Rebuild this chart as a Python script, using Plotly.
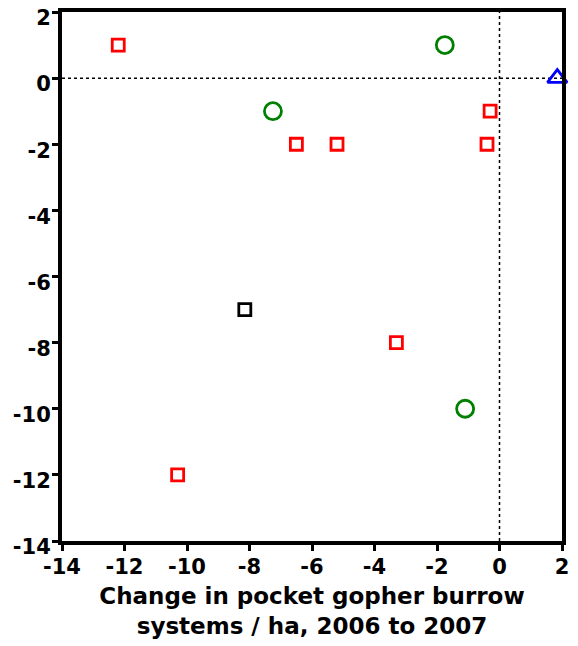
import plotly.graph_objects as go

# Data
red_x = [-12.2, -6.5, -5.2, -0.3, -0.4, -3.3, -10.3]
red_y = [1, -2, -2, -1, -2, -8, -12]
black_x = [-8.15]
black_y = [-7]
green_x = [-1.75, -7.25, -1.1]
green_y = [1, -1, -10]
blue_x = [1.85]
blue_y = [0]

tick_vals = [-14, -12, -10, -8, -6, -4, -2, 0, 2]
x_title = "Change in pocket gopher burrow<br>systems / ha, 2006 to 2007"

FONT = "DejaVu Sans, Verdana, sans-serif"

fig = go.Figure()
fig.add_trace(go.Scatter(x=red_x, y=red_y, mode="markers",
                         marker=dict(symbol="square-open", size=12, color="#ff0000",
                                     line=dict(width=2.8, color="#ff0000")),
                         cliponaxis=False, showlegend=False))
fig.add_trace(go.Scatter(x=black_x, y=black_y, mode="markers",
                         marker=dict(symbol="square-open", size=12, color="#000000",
                                     line=dict(width=2.8, color="#000000")),
                         cliponaxis=False, showlegend=False))
fig.add_trace(go.Scatter(x=green_x, y=green_y, mode="markers",
                         marker=dict(symbol="circle-open", size=17, color="#008000",
                                     line=dict(width=2.8, color="#008000")),
                         cliponaxis=False, showlegend=False))
fig.add_trace(go.Scatter(x=blue_x, y=blue_y, mode="markers",
                         marker=dict(symbol="triangle-up-open", size=17, color="#0000ff",
                                     line=dict(width=2.8, color="#0000ff")),
                         cliponaxis=False, showlegend=False))

fig.add_shape(type="line", xref="x", yref="y", x0=0, x1=0, y0=-14, y1=2,
              line=dict(color="black", width=1.5, dash="dot"), layer="below")
fig.add_shape(type="line", xref="x", yref="y", x0=-14, x1=2, y0=0, y1=0,
              line=dict(color="black", width=1.5, dash="dot"), layer="below")

axis_common = dict(
    range=[-14, 2], tickvals=tick_vals, ticktext=[str(v) for v in tick_vals],
    showgrid=False, zeroline=False, showline=True, linecolor="black", linewidth=4,
    mirror=True, ticks="outside", ticklen=6, tickwidth=3, tickcolor="black",
    automargin=False, ticklabeloverflow="allow",
    tickfont=dict(family=FONT, size=21, color="black", weight="bold"),
)

fig.update_layout(
    width=570, height=638,
    margin=dict(l=54, r=16, t=4, b=105),
    plot_bgcolor="white", paper_bgcolor="white",
    xaxis=dict(**axis_common, ticklabelstandoff=-2,
               title=dict(text=x_title, standoff=11,
                          font=dict(family=FONT, size=23, color="black", weight="bold"))),
    yaxis=dict(**axis_common, ticklabelstandoff=-3, ticklabelshift=6),
)

fig.write_html("out.html")
